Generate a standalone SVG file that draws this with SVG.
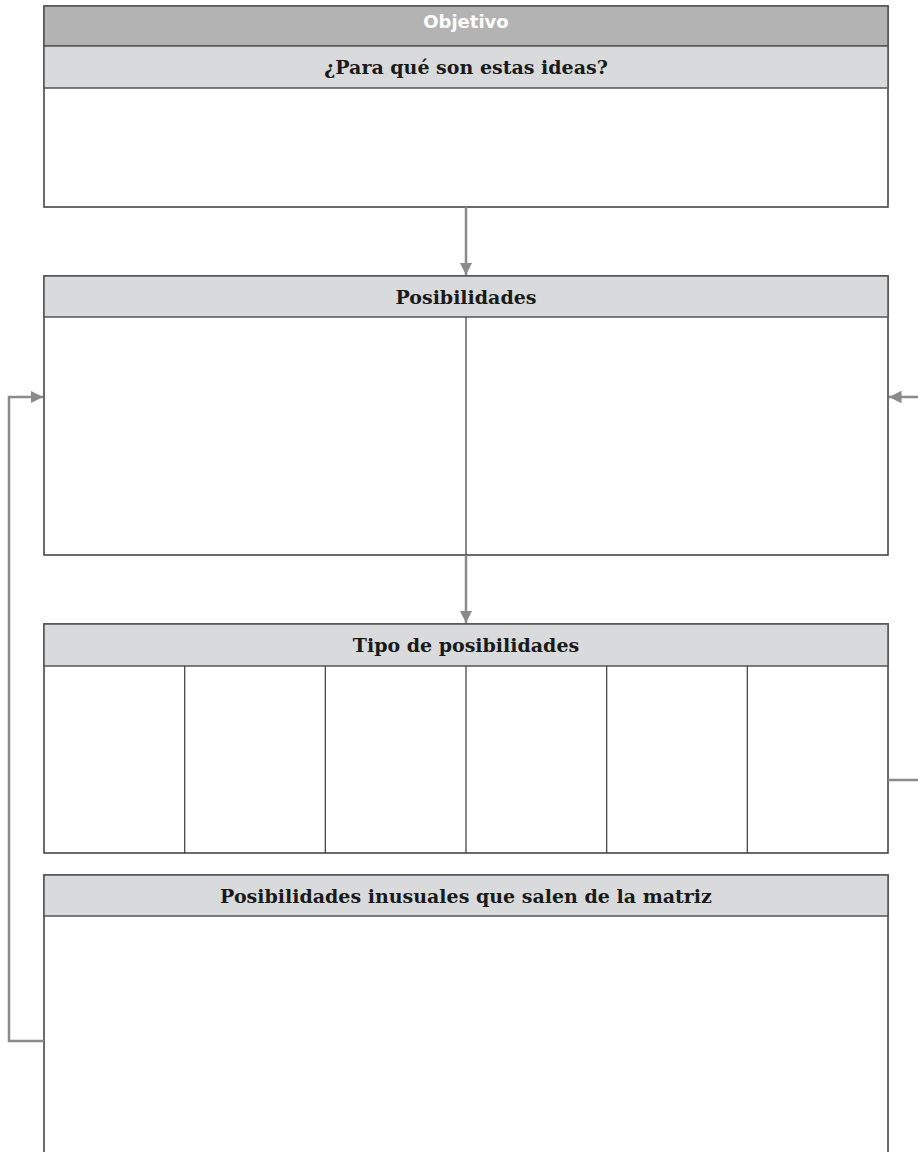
<svg xmlns="http://www.w3.org/2000/svg" width="918" height="1152" viewBox="0 0 918 1152">
  <style>
    .frame { fill: #ffffff; stroke: #3a3a3a; stroke-width: 1.5; }
    .hdr-dark { fill: #b3b3b4; stroke: #555555; stroke-width: 1.5; }
    .hdr-light { fill: #d9dadb; stroke: #555555; stroke-width: 1.5; }
    .div { stroke: #3a3a3a; stroke-width: 1.2; fill: none; }
    .lbl { font-family: "DejaVu Serif", "Liberation Serif", serif; font-weight: bold; font-size: 19px; fill: #1a1a1a; text-anchor: middle; }
    .lbl-w { font-family: "DejaVu Sans", "Liberation Sans", sans-serif; font-weight: bold; font-size: 18px; fill: #ffffff; text-anchor: middle; }
    .conn { stroke: #8a8a8a; stroke-width: 2.5; fill: none; }
  </style>
  <defs>
    <marker id="arr" viewBox="0 0 10 10" refX="10" refY="5" markerWidth="5" markerHeight="5" orient="auto" markerUnits="strokeWidth">
      <path d="M0,0 L10,5 L0,10 z" fill="#8a8a8a"/>
    </marker>
  </defs>

  <!-- Objective block -->
  <g id="objetivo">
    <rect class="frame" x="44" y="6" width="844" height="201"/>
    <rect class="hdr-dark" x="44" y="6" width="844" height="40"/>
    <rect class="hdr-light" x="44" y="46" width="844" height="42"/>
    <text class="lbl-w" x="466" y="28">Objetivo</text>
    <text class="lbl" x="466" y="74">¿Para qué son estas ideas?</text>
  </g>

  <!-- Possibilities block -->
  <g id="posibilidades">
    <rect class="frame" x="44" y="276" width="844" height="279"/>
    <rect class="hdr-light" x="44" y="276" width="844" height="41"/>
    <line class="div" x1="466" y1="317" x2="466" y2="555"/>
    <text class="lbl" x="466" y="304">Posibilidades</text>
  </g>

  <!-- Types of possibilities block -->
  <g id="tipo">
    <rect class="frame" x="44" y="624" width="844" height="229"/>
    <rect class="hdr-light" x="44" y="624" width="844" height="42"/>
    <line class="div" x1="184.7" y1="666" x2="184.7" y2="853"/>
    <line class="div" x1="325.3" y1="666" x2="325.3" y2="853"/>
    <line class="div" x1="466" y1="666" x2="466" y2="853"/>
    <line class="div" x1="606.7" y1="666" x2="606.7" y2="853"/>
    <line class="div" x1="747.3" y1="666" x2="747.3" y2="853"/>
    <text class="lbl" x="466" y="652">Tipo de posibilidades</text>
  </g>

  <!-- Unusual possibilities block -->
  <g id="inusuales">
    <rect class="frame" x="44" y="875" width="844" height="290"/>
    <rect class="hdr-light" x="44" y="875" width="844" height="41"/>
    <text class="lbl" x="466" y="903">Posibilidades inusuales que salen de la matriz</text>
  </g>

  <!-- Connectors -->
  <g id="connectors">
    <line class="conn" x1="466" y1="207" x2="466" y2="275" marker-end="url(#arr)"/>
    <line class="conn" x1="466" y1="555" x2="466" y2="623" marker-end="url(#arr)"/>
    <polyline class="conn" points="44,1041 9,1041 9,397 43,397" marker-end="url(#arr)"/>
    <line class="conn" x1="918" y1="780" x2="888" y2="780"/>
    <line class="conn" x1="918" y1="397" x2="889" y2="397" marker-end="url(#arr)"/>
  </g>
</svg>
